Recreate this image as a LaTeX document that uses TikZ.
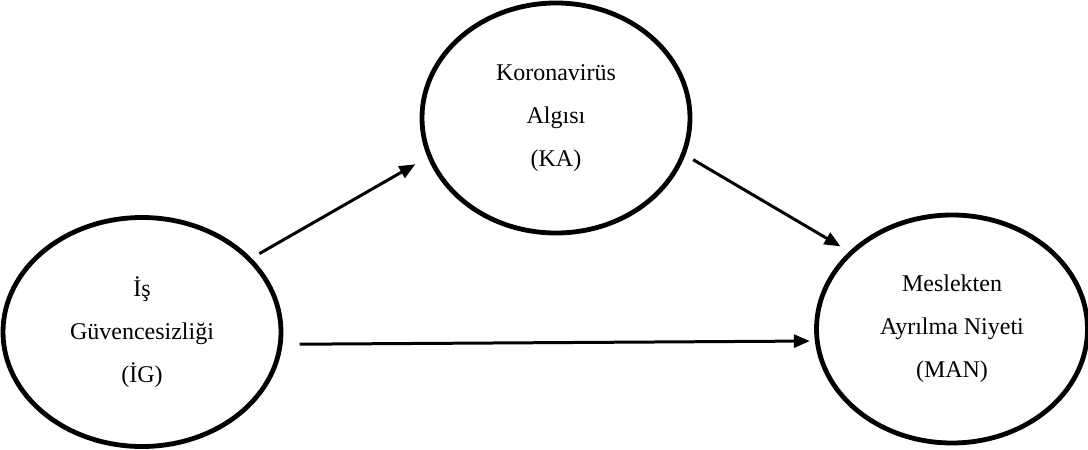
\documentclass[tikz,border=0pt]{standalone}
\usepackage{fontspec}
\setmainfont{Liberation Serif}
\usetikzlibrary{shapes.geometric,arrows.meta}
\tikzset{
  factor/.style={ellipse,draw,line width=2.4pt,align=center,inner sep=0pt,
    font=\fontsize{12}{21.5}\selectfont},
  path arrow/.style={line width=1.5pt,-{Triangle[length=8pt,width=6.5pt]}}
}
\begin{document}
\begin{tikzpicture}[x=0.5pt,y=-0.5pt]
\useasboundingbox (0,0) rectangle (1088,450);
\node[factor,minimum width=139pt,minimum height=114.5pt](ig) at (142,332){İş\\Güvencesizliği\\(İG)};
\node[factor,minimum width=134pt,minimum height=115pt](ka) at (556,118){Koronavirüs\\Algısı\\(KA)};
\node[factor,minimum width=135.5pt,minimum height=114pt](man) at (952,329){Meslekten\\Ayrılma Niyeti\\(MAN)};
\draw[path arrow,shorten <=4.5pt,shorten >=7pt](ig.34)--(ka.197);
\draw[path arrow,shorten <=4.5pt,shorten >=5pt](ka.-16)--(man.143);
\draw[path arrow,shorten <=8.5pt,shorten >=2.5pt](ig.-5)--(man.185);
\end{tikzpicture}
\end{document}
